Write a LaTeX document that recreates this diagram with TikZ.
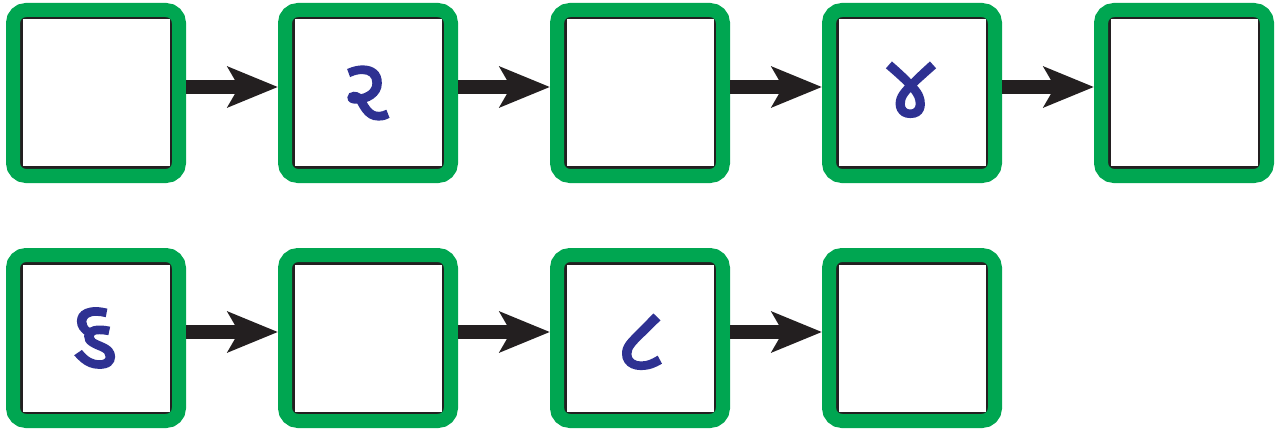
\documentclass[tikz,border=0pt]{standalone}
\usepackage{fontspec}
\newfontfamily\guj[Script=Gujarati,FakeBold=2.5]{Noto Sans Gujarati UI}
\usetikzlibrary{arrows.meta}
\definecolor{boxgreen}{HTML}{00A651}
\definecolor{digitblue}{HTML}{2E3192}
\definecolor{arrowblack}{HTML}{231F20}
\tikzset{
  box/.style={draw=boxgreen, line width=14pt, rounded corners=13pt, fill=white,
    minimum size=166pt, inner sep=0pt,
    path picture={\draw[arrowblack, line width=2.5pt, sharp corners]
      ([shift={(8.25pt,-8.25pt)}]path picture bounding box.north west)
      rectangle ([shift={(-8.25pt,8.25pt)}]path picture bounding box.south east);}},
  arr/.style={arrowblack, line width=14pt,
    -{Stealth[length=50pt, width=40pt, inset=11pt]}},
  digit/.style={text=digitblue, font=\guj\fontsize{88}{88}\selectfont, inner sep=0pt}
}
\begin{document}
\begin{tikzpicture}[x=1pt,y=1pt]
\useasboundingbox (0,0) rectangle (1284,429);
\foreach \i/\x in {1/96,2/368,3/640,4/912,5/1184}{
  \node[box] (a\i) at (\x,336) {};
}
\foreach \i/\x in {1/96,2/368,3/640,4/912}{
  \node[box] (b\i) at (\x,91) {};
}
\foreach \p/\q in {1/2,2/3,3/4,4/5}{
  \draw[arr] ([yshift=6pt]a\p.east) -- ([yshift=6pt]a\q.west);
}
\foreach \p/\q in {1/2,2/3,3/4}{
  \draw[arr] ([yshift=6pt]b\p.east) -- ([yshift=6pt]b\q.west);
}
\node[digit] (d2) at (366,336) {૨};
\node[digit] (d4) at (911,339) {૪};
\node[digit] (d6) at (94,91) {૬};
\node[digit] (d8) at (641,87) {૮};
\end{tikzpicture}
\end{document}
